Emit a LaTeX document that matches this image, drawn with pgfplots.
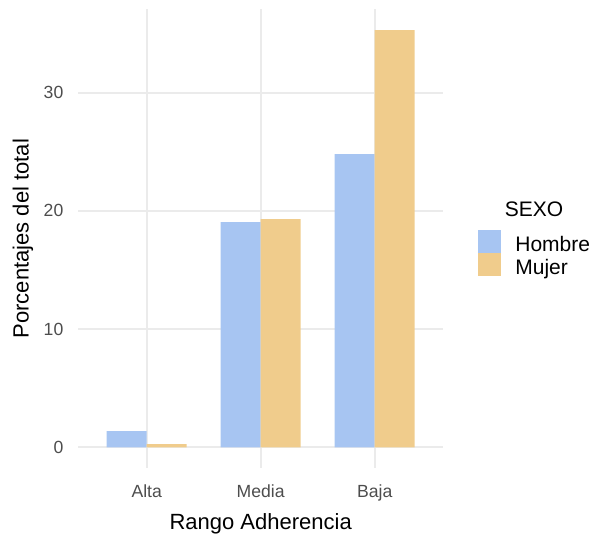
\documentclass[border=0pt]{standalone}
\usepackage{pgfplots}
\pgfplotsset{compat=1.18}
\usepackage{fontspec}
\setmainfont{Liberation Sans}

\definecolor{hombre}{HTML}{A7C5F2}
\definecolor{mujer}{HTML}{F0CC8C}
\definecolor{grid92}{HTML}{EBEBEB}
\definecolor{grey30}{HTML}{4D4D4D}

\begin{document}
\begin{tikzpicture}
\path[use as bounding box] (-39.15pt,-33.9pt) rectangle (257.85pt,234.1pt);
\begin{axis}[
  at={(0,0)}, anchor=south west,
  scale only axis,
  width=182.4pt, height=229.55pt,
  xmin=0.4, xmax=3.6,
  ymin=-1.765, ymax=37.07,
  axis line style={draw=none},
  tick style={draw=none},
  xtick={1,2,3},
  xticklabels={Alta,Media,Baja},
  ytick={0,10,20,30},
  xmajorgrids, ymajorgrids,
  grid style={grid92, line width=1.07pt},
  /pgf/number format/assume math mode=true,
  xticklabel style={font=\fontsize{8.8}{10}\selectfont, text=grey30,
    anchor=base, inner sep=0pt, yshift=-10.25pt},
  yticklabel style={font=\fontsize{8.8}{10}\selectfont, text=grey30,
    anchor=east, inner sep=0pt, xshift=-7.3pt},
  xlabel={Rango Adherencia},
  ylabel={Porcentajes del total},
  xlabel style={at={(axis description cs:0.5,-0.1331)}, anchor=base,
    inner sep=0pt, font=\fontsize{11}{13}\selectfont},
  ylabel style={at={(axis description cs:-0.1362,0.5)}, anchor=base,
    inner sep=0pt, font=\fontsize{11}{13}\selectfont},
  ybar=0pt,
  bar width=20pt,
]
% Hombre
\addplot[fill=hombre, draw=none] coordinates {(1,1.38) (2,19.04) (3,24.81)};
% Mujer
\addplot[fill=mujer, draw=none] coordinates {(1,0.28) (2,19.31) (3,35.30)};
\end{axis}

% legend
\node[anchor=base, inner sep=0pt, font=\fontsize{10.5}{12}\selectfont] at (227.85pt,125.75pt) {SEXO};
\fill[hombre] (199.85pt,107.35pt) rectangle (211.35pt,118.85pt);
\fill[mujer] (199.85pt,95.85pt) rectangle (211.35pt,107.35pt);
\node[anchor=base west, inner sep=0pt, font=\fontsize{10.5}{12}\selectfont] at (218.35pt,108.25pt) {Hombre};
\node[anchor=base west, inner sep=0pt, font=\fontsize{10.5}{12}\selectfont] at (218.35pt,96.6pt) {Mujer};
\end{tikzpicture}
\end{document}
